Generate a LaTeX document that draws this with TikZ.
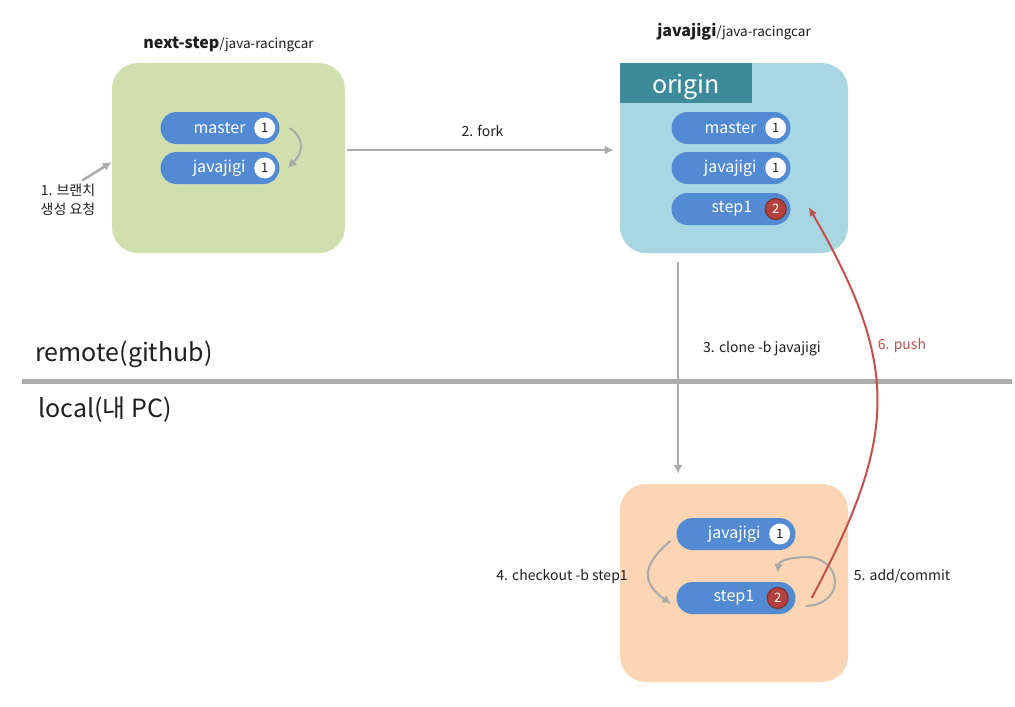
\documentclass[tikz,border=0pt]{standalone}
\usepackage{fontspec}
\setmainfont{Noto Sans CJK KR}
\usetikzlibrary{positioning,arrows.meta,shadows}
\definecolor{ink}{HTML}{1E1E1E}
\definecolor{upstream}{HTML}{CFDFAD}
\definecolor{forkblue}{HTML}{A8D7E3}
\definecolor{tabteal}{HTML}{3D8A9A}
\definecolor{localpeach}{HTML}{FBD5B4}
\definecolor{branchblue}{HTML}{528AD3}
\definecolor{hotred}{HTML}{B3403D}
\definecolor{flowgray}{HTML}{ABABAB}
\definecolor{pushred}{HTML}{C4504C}

\begin{document}
\begin{tikzpicture}[
    x=1pt, y=1pt,
    repo/.style={rounded corners=26pt, inner sep=0pt},
    pill/.style={fill=branchblue, rounded corners=16pt, minimum width=119pt, minimum height=32pt, inner sep=0pt},
    badge/.style={circle, fill=white, minimum size=21pt, inner sep=0pt, text=ink,
                  font=\fontsize{13}{13}\selectfont},
    hot/.style={badge, fill=hotred, draw=hotred!70!black, line width=1pt, text=white,
                drop shadow={opacity=0.35, shadow xshift=0.8pt, shadow yshift=-1pt}},
    branch/.style={text=white, font=\fontsize{16}{19}\selectfont},
    flow/.style={draw=flowgray, line width=2.5pt, -{Latex[length=9pt, width=9pt]}},
    pushline/.style={draw=pushred, line width=2pt, -{Latex[length=9pt, width=8pt]}},
    note/.style={font=\fontsize{14}{19}\selectfont, text=ink},
    side/.style={font=\fontsize{25}{30}\selectfont, text=ink, anchor=west},
    title/.style={font=\fontsize{16}{19}\selectfont, text=ink},
  ]

  % 바탕, 그림 크기 고정
  \useasboundingbox[fill=white] (0,0) rectangle (1015,-707);

  % 저장소 상자
  \node[repo, fill=upstream, minimum width=233pt, minimum height=190pt] (ns) at (228.5,-158) {};
  \node[repo, fill=forkblue, minimum width=228pt, minimum height=190pt] (jg) at (734,-158) {};
  \node[repo, fill=localpeach, minimum width=228pt, minimum height=198pt] (pc) at (734,-583) {};
  \node[fill=tabteal, minimum width=132pt, minimum height=40pt, inner sep=0pt, anchor=north west,
        text height=26pt, text depth=6pt,
        text=white, font=\fontsize{25}{25}\selectfont] (origin) at (jg.north west) {origin};

  % 저장소 이름
  \node[title, above=7pt of ns] (nstitle) {\textbf{next-step}{\fontsize{13.5}{19}\selectfont/java-racingcar}};
  \node[title, above=19pt of jg] (jgtitle) {\textbf{javajigi}{\fontsize{13.5}{19}\selectfont/java-racingcar}};

  % 브랜치
  \foreach \k/\t/\y in {mst/master/128, jvg/javajigi/168} {
    \node[pill] (ns\k) at (220,-\y) {};
    \node[badge] (b-ns\k) at ([xshift=-15pt]ns\k.east) {1};
    \node[branch, left=5pt of b-ns\k] (t-ns\k) {\t};
  }
  \foreach \k/\t/\y in {mst/master/128, jvg/javajigi/168} {
    \node[pill] (jg\k) at (731,-\y) {};
    \node[badge] (b-jg\k) at ([xshift=-15pt]jg\k.east) {1};
    \node[branch, left=5pt of b-jg\k] (t-jg\k) {\t};
  }
  \node[pill] (jgstp) at (731,-209) {};
  \node[hot] (b-jgstp) at ([xshift=-15pt]jgstp.east) {2};
  \node[branch, left=9pt of b-jgstp] (t-jgstp) {step1};

  \node[pill] (pcjvg) at (736,-534) {};
  \node[badge] (b-pcjvg) at ([xshift=-16pt]pcjvg.east) {1};
  \node[branch, left=5pt of b-pcjvg] (t-pcjvg) {javajigi};
  \node[pill] (pcstp) at (736,-598) {};
  \node[hot] (b-pcstp) at ([xshift=-18pt]pcstp.east) {2};
  \node[branch, left=9pt of b-pcstp] (t-pcstp) {step1};

  % remote / local 구분선
  \coordinate (sepL) at (22,-381);
  \coordinate (sepR) at (1012,-381);
  \draw[draw=flowgray, line width=5pt] (sepL) -- (sepR);
  \node[side] (remote) at (32,-354) {remote(github)};
  \node[side] (local) at (35,-410) {local(내 PC)};

  % 1. 브랜치 생성 요청
  \node[note, align=center] (req) at (68,-200) {1. 브랜치\\생성 요청};
  \draw[flow] ([xshift=14pt]req.north) -- ([yshift=-4pt]ns.west);
  \draw[flow, line width=2pt] ([xshift=10pt]nsmst.east) to[out=-35, in=45, looseness=1.3] ([xshift=8pt]nsjvg.east);

  % 2. fork
  \draw[flow, shorten <=2pt, shorten >=6pt] ([yshift=8pt]ns.east) -- node[note, above=9pt] (forkl) {2. fork} ([yshift=8pt]jg.west);

  % 3. clone
  \draw[flow, shorten <=9pt, shorten >=10pt] ([xshift=-56pt]jg.south) -- ([xshift=-56pt]pc.north);
  \node[note] (clonel) at (762,-349) {3. clone -b javajigi};

  % 4. checkout, 5. add/commit
  \draw[flow, line width=2pt] ([shift={(-6pt,-7pt)}]pcjvg.west) to[out=-140, in=145, looseness=1.5] ([shift={(-5pt,-6pt)}]pcstp.west);
  \node[note] (checkl) at (562,-577) {4. checkout -b step1};
  \draw[flow, line width=2pt] ([shift={(10pt,-8pt)}]pcstp.east) to[out=0, in=-90] (835,-582)
    to[out=90, in=0] (807,-557) to[out=180, in=85] ([yshift=14pt]b-pcstp.north);
  \node[note] (commitl) at (902,-576) {5. add/commit};

  % 6. push
  \draw[pushline] ([xshift=16pt]pcstp.east) to[out=62, in=-60, looseness=1.2] ([shift={(18pt,2pt)}]jgstp.east);
  \node[note, text=pushred] (pushl) at (902,-346) {6. push};

\end{tikzpicture}
\end{document}
